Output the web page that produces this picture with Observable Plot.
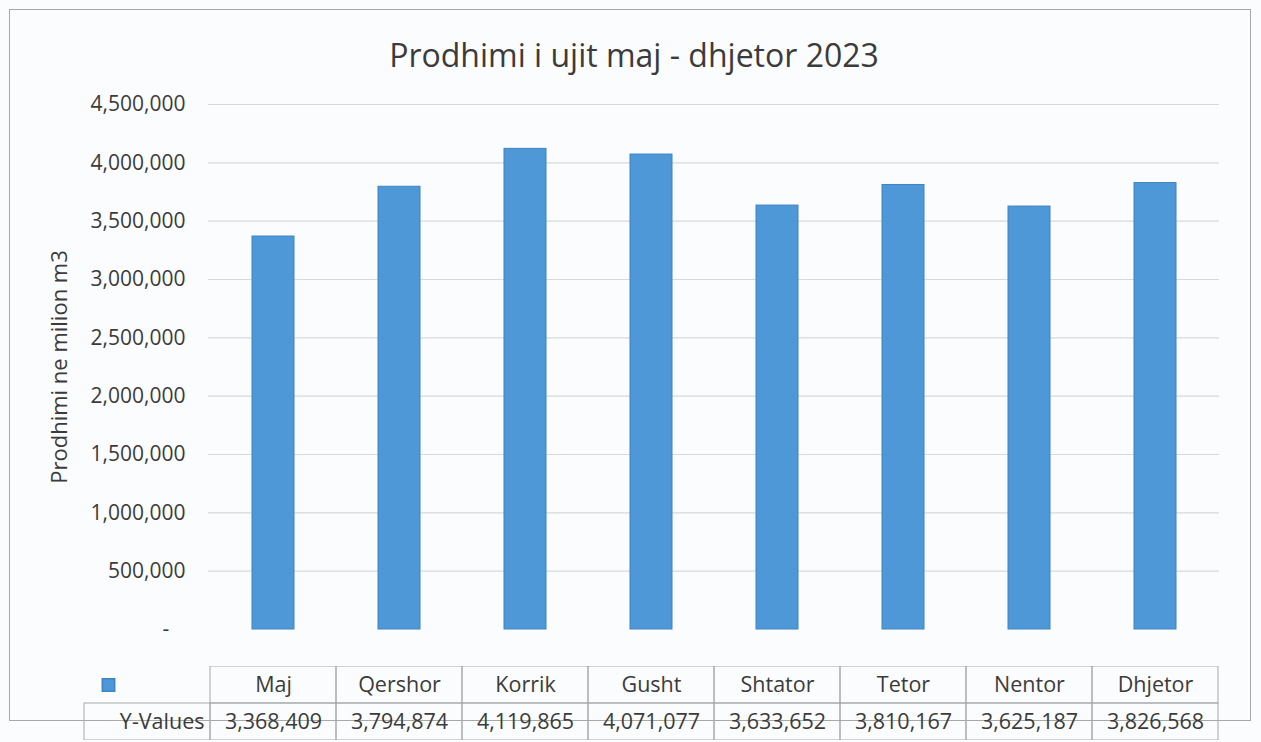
<!DOCTYPE html>
<html><head><meta charset="utf-8">
<script src="https://cdn.jsdelivr.net/npm/d3@7"></script>
<script src="https://cdn.jsdelivr.net/npm/@observablehq/plot@0.6"></script>
<style>
body{margin:0;background:#fbfcfd;}
#wrap{position:relative;width:1261px;height:742px;overflow:hidden;font-family:"Open Sans",sans-serif;color:#3b3b3b;}
#frame{position:absolute;left:9px;top:9px;width:1240px;height:710px;border:1px solid #a8a8a8;}
#title{position:absolute;left:0;top:33px;width:1268px;text-align:center;font-size:32px;line-height:44px;}
#chart,#table{position:absolute;left:0;}
#chart{top:0;}
#table{top:666px;}
.ylab text[transform*="rotate"]{font-size:22px;}
</style></head><body>
<div id="wrap"><div id="frame"></div><div id="title">Prodhimi i ujit maj - dhjetor 2023</div><div id="chart"></div><div id="table"></div></div>
<script>
const months = ["Maj","Qershor","Korrik","Gusht","Shtator","Tetor","Nentor","Dhjetor"];
const values = [3368409,3794874,4119865,4071077,3633652,3810167,3625187,3826568];
const yTicks = [0,500000,1000000,1500000,2000000,2500000,3000000,3500000,4000000,4500000];
const seriesLabel = "Y-Values";
const yLabel = "Prodhimi ne milion m3";

const barFill = "#4f98d7";
const barStroke = "#3d84c4";
const textColor = "#3b3b3b";
const fmt = d3.format(",");
const data = months.map((m, i) => ({month: m, value: values[i]}));

const chart = Plot.plot({
  width: 1261,
  height: 650,
  marginTop: 104,
  marginBottom: 21,
  marginLeft: 208,
  marginRight: 42,
  className: "ylab",
  style: {background: "transparent", fontFamily: "'Open Sans', sans-serif", fontSize: "21px", color: textColor},
  x: {domain: months, paddingInner: 0.667, paddingOuter: 0.333, axis: null},
  y: {domain: [0, 4500000], ticks: yTicks, label: null},
  marks: [
    Plot.ruleY(yTicks.filter(d => d > 0), {stroke: "#d9d9d9", strokeWidth: 1.2}),
    Plot.barY(data, {x: "month", y: "value", fill: barFill, stroke: barStroke, strokeWidth: 1}),
    Plot.axisY({ticks: yTicks, tickSize: 0, tickPadding: 23,
      tickFormat: d => d === 0 ? "-\u00a0\u00a0\u00a0" : fmt(d),
      label: yLabel, labelAnchor: "center", labelArrow: "none", labelOffset: 157, fill: textColor})
  ]
});
document.getElementById("chart").appendChild(chart);

const cols = [seriesLabel, ...months];
const table = Plot.plot({
  width: 1261,
  height: 74,
  marginTop: 0,
  marginBottom: 0,
  marginLeft: 82,
  marginRight: 42,
  style: {background: "transparent", fontFamily: "'Open Sans', sans-serif", fontSize: "21.5px", color: textColor},
  x: {domain: cols, padding: 0, axis: null},
  y: {domain: ["h", "v"], padding: 0, axis: null},
  marks: [
    Plot.cell(months, {x: d => d, y: () => "h", fill: "none", stroke: "#a8a8a8", strokeWidth: 1}),
    Plot.cell(cols, {x: d => d, y: () => "v", fill: "none", stroke: "#a8a8a8", strokeWidth: 1}),
    Plot.text(months, {x: d => d, y: () => "h", text: d => d, fill: textColor}),
    Plot.text(data, {x: "month", y: () => "v", text: d => fmt(d.value), fill: textColor}),
    Plot.text([seriesLabel], {x: d => d, y: () => "v", text: d => d, textAnchor: "end", dx: 57, fill: textColor}),
    Plot.dot([seriesLabel], {x: d => d, y: () => "h", symbol: "square", r: 7, fill: barFill, stroke: barStroke, dx: -39})
  ]
});
document.getElementById("table").appendChild(table);
</script>
</body></html>
